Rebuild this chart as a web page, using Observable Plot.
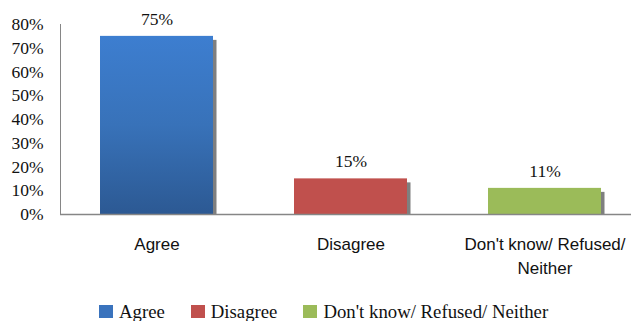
<!DOCTYPE html>
<html>
<head>
<meta charset="utf-8">
<script src="https://cdn.jsdelivr.net/npm/d3@7"></script>
<script src="https://cdn.jsdelivr.net/npm/@observablehq/plot@0.6"></script>
<style>
  body { margin: 0; background: #fff; }
  #legend { display: flex; align-items: center; padding-left: 99px; margin-top: 22px; height: 19px;
            font-family: "Liberation Serif", "Times New Roman", serif; font-size: 18.75px; color: #111; }
  #legend .item { display: flex; align-items: center; margin-right: 26px; }
  #legend .sw { width: 14px; height: 13px; margin-right: 6px; }
</style>
</head>
<body>
<div id="chart"></div>
<div id="legend"></div>
<script>
const categories = ["Agree", "Disagree", "Don't know/ Refused/ Neither"];
const values = [75, 15, 11];
const valueLabels = ["75%", "15%", "11%"];
const axisLabels = ["Agree", "Disagree", "Don't know/ Refused/\nNeither"];
const fills = ["url(#blueGrad)", "#c0504d", "#9bbb59"];
const legendColors = ["#3a73bd", "#c0504d", "#9bbb59"];
const yTicks = [0, 10, 20, 30, 40, 50, 60, 70, 80];

const data = categories.map((c, i) => ({category: c, value: values[i], label: valueLabels[i], fill: fills[i]}));

const plot = Plot.plot({
  width: 631,
  height: 280,
  marginLeft: 60,
  marginRight: 0,
  marginTop: 24,
  marginBottom: 66,
  style: {background: "#fff", color: "#111"},
  x: {type: "band", domain: categories, range: [59, 642], paddingInner: 0.42, paddingOuter: 0.21, label: null},
  y: {domain: [0, 80], label: null},
  color: {type: "identity"},
  marks: [
    Plot.barY(data, {x: "category", y: "value", fill: "#7f7f7f", dx: 3.5, dy: 4, clip: "frame"}),
    Plot.barY(data, {x: "category", y: "value", fill: "fill"}),
    Plot.text(data, {x: "category", y: "value", text: "label", dy: -17, lineAnchor: "middle",
      fontFamily: "'Liberation Serif', 'Times New Roman', serif", fontSize: 17.5, fill: "#111"}),
    Plot.axisY({ticks: yTicks, tickSize: 0, tickPadding: 17, tickFormat: d => d + "%",
      fontFamily: "'Liberation Serif', 'Times New Roman', serif", fontSize: 17.5, label: null}),
    Plot.axisX({tickSize: 0, tickPadding: 19, tickFormat: d => axisLabels[categories.indexOf(d)],
      fontFamily: "'Liberation Sans', Arial, sans-serif", fontSize: 17, lineHeight: 1.38, label: null}),
    Plot.frame({anchor: "left", stroke: "#868686"}),
    Plot.ruleY([0], {stroke: "#868686", strokeWidth: 1.5})
  ]
});

const svg = d3.select(plot);
const defs = svg.insert("defs", ":first-child");
const grad = defs.append("linearGradient").attr("id", "blueGrad")
  .attr("x1", 0).attr("y1", 0).attr("x2", 0).attr("y2", 1);
grad.append("stop").attr("offset", "0%").attr("stop-color", "#3d7ed0");
grad.append("stop").attr("offset", "50%").attr("stop-color", "#3872b9");
grad.append("stop").attr("offset", "100%").attr("stop-color", "#2c5993");

document.getElementById("chart").append(plot);

const legend = d3.select("#legend");
categories.forEach((c, i) => {
  const item = legend.append("div").attr("class", "item");
  item.append("div").attr("class", "sw").style("background", legendColors[i]);
  item.append("span").text(c);
});
</script>
</body>
</html>
